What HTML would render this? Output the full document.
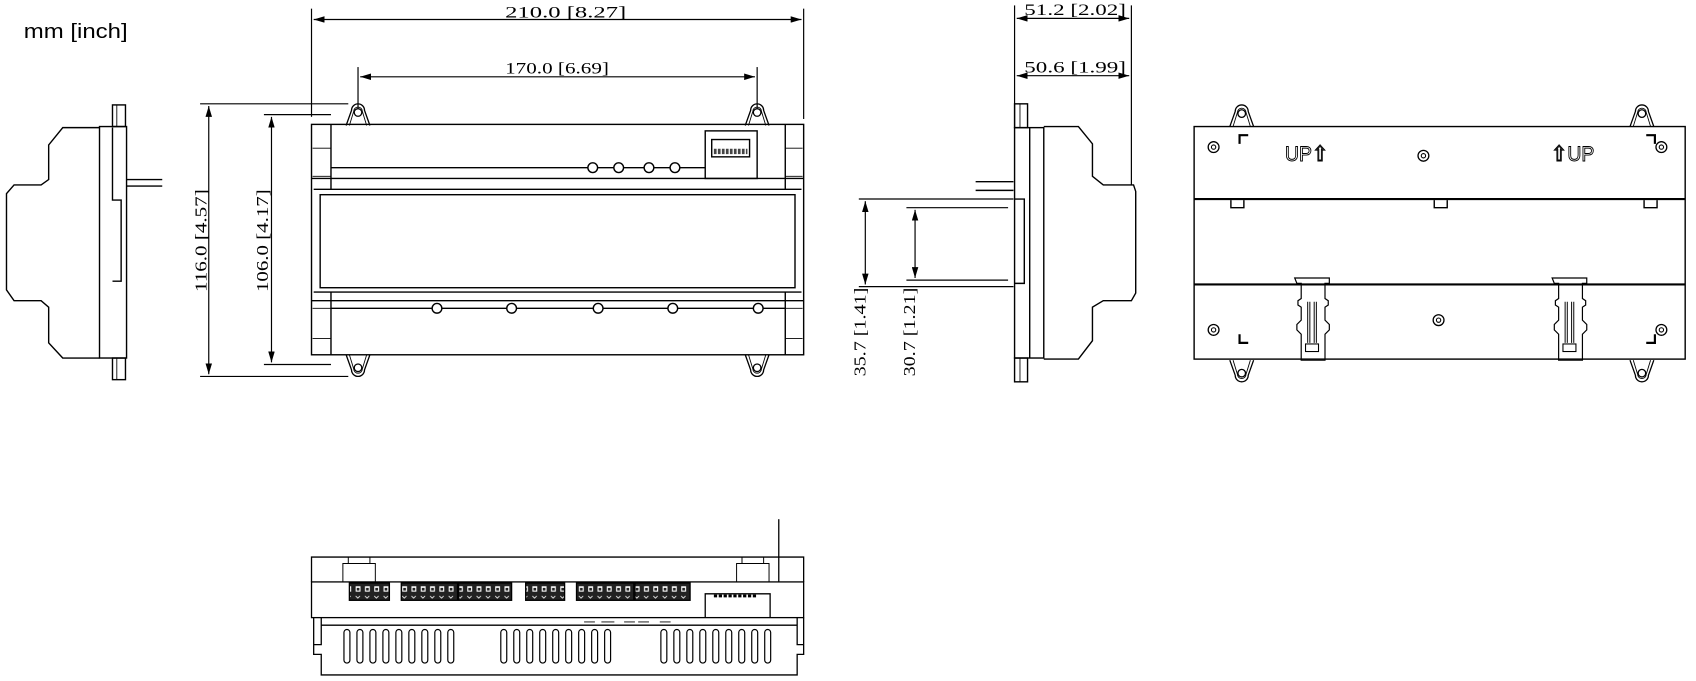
<!DOCTYPE html>
<html><head><meta charset="utf-8"><style>
html,body{margin:0;padding:0;background:#fff;}
svg{display:block;}
text{font-family:"Liberation Serif","DejaVu Serif",serif;fill:#000;}
</style></head><body>
<svg width="1696" height="681" viewBox="0 0 1568 629.6" xmlns="http://www.w3.org/2000/svg">
<defs>
<marker id="a" viewBox="0 0 10 6" refX="10" refY="3" markerWidth="10" markerHeight="6" orient="auto-start-reverse" markerUnits="userSpaceOnUse"><path d="M0,0 L10,3 L0,6 z" fill="#000"/></marker>
<pattern id="pins" x="0" y="539" width="8.6" height="16" patternUnits="userSpaceOnUse"><rect width="8.6" height="16" fill="#222"/><rect x="2" y="3" width="4.5" height="5" fill="#fff"/><rect x="3" y="4.5" width="2.5" height="2.5" fill="#222"/><path d="M2,12 l2,2 l2,-2" stroke="#fff" fill="none" stroke-width="0.8"/></pattern>
<g id="ear"><path d="M-11,20 L-6,6 A6,6 0 0 1 6,6 L11,20" fill="none" stroke="#000" stroke-width="1.2"/><path d="M-8,20 L-4,7 A4,4 0 0 1 4,7 L8,20" fill="none" stroke="#000" stroke-width="0.8"/><circle cx="0" cy="8" r="3.5" fill="none" stroke="#000" stroke-width="1.2"/></g>
<g id="tc"><circle r="5" fill="none" stroke="#000" stroke-width="1.2"/><circle r="2" fill="none" stroke="#000" stroke-width="1"/></g>
<g id="slot"><rect x="0" y="0" width="5.5" height="31" rx="2.7" fill="none" stroke="#000" stroke-width="1.1"/></g>
<g id="clip"><path d="M-2,0 h32 v5 h-4 v14 l3,2 v4 l-3,2 v12 l4,4 v5 l-4,4 v24 h-22 v-24 l-4,-4 v-5 l4,-4 v-12 l-3,-2 v-4 l3,-2 v-14 h-4 z" fill="none" stroke="#000" stroke-width="1.1"/><path d="M10,22 v38 M18,22 v38 M12,22 v38 M16,22 v38" stroke="#000" stroke-width="0.9"/><rect x="8" y="61" width="12" height="7" fill="none" stroke="#000" stroke-width="1"/></g>
</defs>
<g fill="none" stroke="#000" stroke-width="1.1">
<text x="22" y="35" font-size="19" stroke="none" style="font-family:'Liberation Sans',sans-serif" textLength="96" lengthAdjust="spacingAndGlyphs">mm [inch]</text>

<line x1="288" y1="8" x2="288" y2="108"/><line x1="743" y1="8" x2="743" y2="110"/>
<line x1="290" y1="18" x2="741" y2="18" marker-start="url(#a)" marker-end="url(#a)"/>
<line x1="331" y1="62" x2="331" y2="100"/><line x1="700" y1="62" x2="700" y2="100"/>
<line x1="333" y1="71" x2="698" y2="71" marker-start="url(#a)" marker-end="url(#a)"/>
<line x1="185" y1="96" x2="322" y2="96"/><line x1="185" y1="348" x2="322" y2="348"/>
<line x1="193" y1="98" x2="193" y2="346" marker-start="url(#a)" marker-end="url(#a)"/>
<line x1="244" y1="106" x2="306" y2="106"/><line x1="244" y1="337" x2="306" y2="337"/>
<line x1="251" y1="108" x2="251" y2="335" marker-start="url(#a)" marker-end="url(#a)"/>
</g>
<text x="467" y="16" font-size="15" textLength="112" lengthAdjust="spacingAndGlyphs">210.0 [8.27]</text>
<text x="467" y="68" font-size="15" textLength="96" lengthAdjust="spacingAndGlyphs">170.0 [6.69]</text>
<text transform="translate(191,270) rotate(-90)" font-size="16" textLength="95" lengthAdjust="spacingAndGlyphs">116.0 [4.57]</text>
<text transform="translate(248,270) rotate(-90)" font-size="16" textLength="95" lengthAdjust="spacingAndGlyphs">106.0 [4.17]</text>

<g fill="none" stroke="#000" stroke-width="1.3">
<use href="#ear" x="331" y="96"/><use href="#ear" x="700" y="96"/>
<use href="#ear" transform="translate(331,348) scale(1,-1)"/><use href="#ear" transform="translate(700,348) scale(1,-1)"/>
<rect x="288" y="115" width="455" height="213"/>
<line x1="306" y1="115" x2="306" y2="175"/><line x1="726" y1="115" x2="726" y2="175"/>
<line x1="306" y1="270" x2="306" y2="328"/><line x1="726" y1="270" x2="726" y2="328"/>
<line x1="289" y1="137" x2="306" y2="137" stroke-width="0.8"/><line x1="726" y1="137" x2="742" y2="137" stroke-width="0.8"/>
<line x1="289" y1="163" x2="306" y2="163" stroke-width="0.8"/><line x1="726" y1="163" x2="742" y2="163" stroke-width="0.8"/>
<line x1="289" y1="285" x2="306" y2="285" stroke-width="0.8"/><line x1="726" y1="285" x2="742" y2="285" stroke-width="0.8"/>
<line x1="289" y1="313" x2="306" y2="313" stroke-width="0.8"/><line x1="726" y1="313" x2="742" y2="313" stroke-width="0.8"/>
<line x1="306" y1="155" x2="652" y2="155"/>
<line x1="288" y1="165" x2="743" y2="165"/>
<line x1="290" y1="175" x2="741" y2="175"/>
<rect x="296" y="180" width="439" height="86"/>
<line x1="290" y1="270" x2="741" y2="270"/>
<line x1="288" y1="278" x2="743" y2="278"/>
<line x1="306" y1="285" x2="726" y2="285"/>
<rect x="652" y="121" width="48" height="44"/>
<rect x="658" y="129" width="35" height="16"/>
<path d="M660,140 h31" stroke-dasharray="2.5 1.2" stroke-width="5" stroke="#444"/>
<g fill="#fff"><circle cx="548" cy="155" r="4.5"/><circle cx="572" cy="155" r="4.5"/><circle cx="600" cy="155" r="4.5"/><circle cx="624" cy="155" r="4.5"/>
<circle cx="404" cy="285" r="4.5"/><circle cx="473" cy="285" r="4.5"/><circle cx="553" cy="285" r="4.5"/><circle cx="622" cy="285" r="4.5"/><circle cx="701" cy="285" r="4.5"/></g>

<rect x="104" y="97" width="12" height="20"/><rect x="104" y="331" width="12" height="20"/>
<line x1="108" y1="97" x2="108" y2="117" stroke-width="0.8"/><line x1="108" y1="331" x2="108" y2="351" stroke-width="0.8"/>
<rect x="92" y="117" width="25" height="214"/>
<path d="M92,118 L58,118 L45,134 L45,166 L38,171 L13,171 L6,179 L6,268 L13,278 L38,278 L45,284 L45,317 L58,331 L92,331"/>
<path d="M104,118 V185 H112 V260 H104"/>
<line x1="117" y1="166" x2="150" y2="166"/><line x1="117" y1="172" x2="150" y2="172"/>

<rect x="938" y="96" width="12" height="22"/><rect x="938" y="331" width="12" height="22"/>
<line x1="943" y1="96" x2="943" y2="118" stroke-width="0.8"/><line x1="943" y1="331" x2="943" y2="353" stroke-width="0.8"/>
<rect x="938" y="118" width="27" height="213"/>
<line x1="952" y1="118" x2="952" y2="331"/>
<path d="M965,117 L997,117 L1010,133 L1010,163 L1020,171 L1048,171 L1050,177 L1050,271 L1046,278 L1020,278 L1010,284 L1010,315 L997,332 L965,332"/>
<path d="M938,184 H947 V262 H938"/>
<line x1="902" y1="168" x2="937" y2="168"/><line x1="902" y1="176" x2="937" y2="176"/>
</g>
<g fill="none" stroke="#000" stroke-width="1.1">
<line x1="938" y1="5" x2="938" y2="118"/><line x1="1046" y1="5" x2="1046" y2="171"/>
<line x1="940" y1="17" x2="1044" y2="17" marker-start="url(#a)" marker-end="url(#a)"/>
<line x1="940" y1="70" x2="1044" y2="70" marker-start="url(#a)" marker-end="url(#a)"/>
<line x1="794" y1="184" x2="937" y2="184"/><line x1="794" y1="265" x2="937" y2="265"/>
<line x1="800" y1="186" x2="800" y2="263" marker-start="url(#a)" marker-end="url(#a)"/>
<line x1="838" y1="192" x2="932" y2="192"/><line x1="838" y1="259" x2="932" y2="259"/>
<line x1="846" y1="194" x2="846" y2="257" marker-start="url(#a)" marker-end="url(#a)"/>
</g>
<text x="947" y="14" font-size="15" textLength="94" lengthAdjust="spacingAndGlyphs">51.2 [2.02]</text>
<text x="947" y="67" font-size="15" textLength="94" lengthAdjust="spacingAndGlyphs">50.6 [1.99]</text>
<text transform="translate(800,348) rotate(-90)" font-size="16" textLength="82" lengthAdjust="spacingAndGlyphs">35.7 [1.41]</text>
<text transform="translate(846,348) rotate(-90)" font-size="16" textLength="82" lengthAdjust="spacingAndGlyphs">30.7 [1.21]</text>

<g fill="none" stroke="#000" stroke-width="1.3">
<use href="#ear" x="1148" y="97"/><use href="#ear" x="1518" y="97"/>
<use href="#ear" transform="translate(1148,353) scale(1,-1)"/><use href="#ear" transform="translate(1518,353) scale(1,-1)"/>
<rect x="1104" y="117" width="454" height="215" fill="#fff"/>
<line x1="1104" y1="184" x2="1558" y2="184" stroke-width="2"/>
<line x1="1104" y1="263" x2="1558" y2="263" stroke-width="2"/>
<path d="M1138,185 v7 h12 v-7 M1326,185 v7 h12 v-7 M1520,185 v7 h12 v-7"/>
<path d="M1146,133 v-8 h8 M1522,125 h8 v8 M1146,309 v8 h8 M1522,317 h8 v-8" stroke-width="2"/>
<use href="#tc" x="1122" y="136"/><use href="#tc" x="1536" y="136"/><use href="#tc" x="1316" y="144"/>
<use href="#tc" x="1122" y="305"/><use href="#tc" x="1536" y="305"/><use href="#tc" x="1330" y="296"/>
<use href="#clip" x="1199" y="257"/><use href="#clip" x="1437" y="257"/>
</g>
<text x="1188" y="149" font-size="20" style="fill:none;stroke:#000;stroke-width:0.9;font-family:'Liberation Sans',sans-serif" textLength="40" lengthAdjust="spacingAndGlyphs">UP⇧</text>
<text x="1434" y="149" font-size="20" style="fill:none;stroke:#000;stroke-width:0.9;font-family:'Liberation Sans',sans-serif" textLength="40" lengthAdjust="spacingAndGlyphs">⇧UP</text>

<g fill="none" stroke="#000" stroke-width="1.2">
<line x1="720" y1="480" x2="720" y2="538"/>
<path d="M288,538 V515 H743 V538"/>
<rect x="288" y="538" width="455" height="33"/>
<path d="M290,571 V605 H297 V624 H737 V605 H743 V571"/>
<path d="M297,571 V596 H290 M737,571 V596 H743"/>
<path d="M652,571 V549 H712 V571"/>
<line x1="297" y1="578" x2="737" y2="578"/>
<path d="M317,538 V521 H322 V515 M342,515 V521 H347 V538 M322,521 H342" stroke-width="0.9"/>
<path d="M681,538 V521 H686 V515 M706,515 V521 H711 V538 M686,521 H706" stroke-width="0.9"/>
<g fill="url(#pins)">
<rect x="323" y="539" width="37" height="16"/>
<rect x="371" y="539" width="52" height="16"/>
<rect x="424" y="539" width="49" height="16"/>
<rect x="486" y="539" width="36" height="16"/>
<rect x="533" y="539" width="53" height="16"/>
<rect x="587" y="539" width="51" height="16"/>
</g>
<path d="M660,551 h40" stroke-dasharray="3 1.5" stroke-width="2.5"/>
<path d="M540,575 h10 M556,575 h12 M577,575 h10 M590,575 h10 M610,575 h10" stroke-width="0.8"/>
</g>
<g>
<use href="#slot" x="318" y="582"/><use href="#slot" x="330" y="582"/><use href="#slot" x="342" y="582"/><use href="#slot" x="354" y="582"/><use href="#slot" x="366" y="582"/><use href="#slot" x="378" y="582"/><use href="#slot" x="390" y="582"/><use href="#slot" x="402" y="582"/><use href="#slot" x="414" y="582"/>
<use href="#slot" x="463" y="582"/><use href="#slot" x="475" y="582"/><use href="#slot" x="487" y="582"/><use href="#slot" x="499" y="582"/><use href="#slot" x="511" y="582"/><use href="#slot" x="523" y="582"/><use href="#slot" x="535" y="582"/><use href="#slot" x="547" y="582"/><use href="#slot" x="559" y="582"/>
<use href="#slot" x="611" y="582"/><use href="#slot" x="623" y="582"/><use href="#slot" x="635" y="582"/><use href="#slot" x="647" y="582"/><use href="#slot" x="659" y="582"/><use href="#slot" x="671" y="582"/><use href="#slot" x="683" y="582"/><use href="#slot" x="695" y="582"/><use href="#slot" x="707" y="582"/>
</g>
</svg>
</body></html>
